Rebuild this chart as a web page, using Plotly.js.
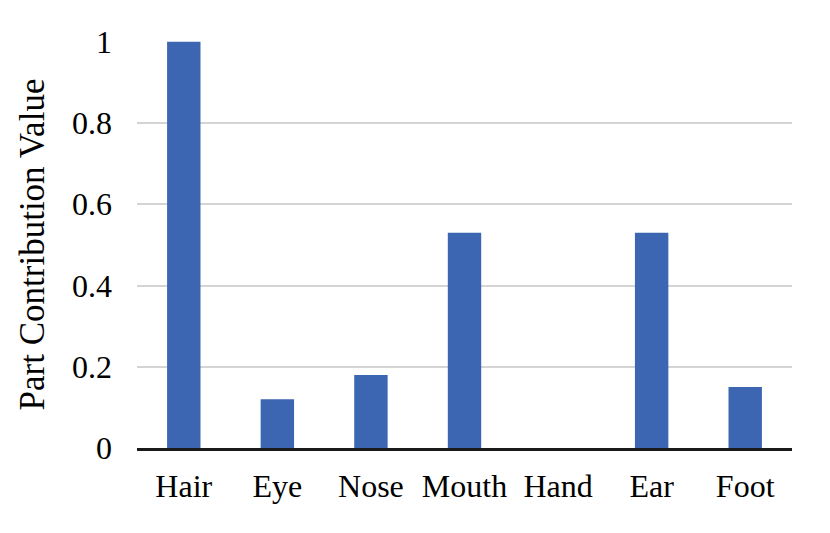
<!DOCTYPE html>
<html>
<head>
<meta charset="utf-8">
<script src="https://cdn.plot.ly/plotly-3.0.1.min.js"></script>
<style>html,body{margin:0;padding:0;background:#fff;}#chart{width:830px;height:533px;}</style>
</head>
<body>
<div id="chart"></div>
<script>
const parts = ["Hair", "Eye", "Nose", "Mouth", "Hand", "Ear", "Foot"];
const contribution = [1.0, 0.12, 0.18, 0.53, 0, 0.53, 0.15];
const yTicks = [0, 0.2, 0.4, 0.6, 0.8, 1];
const yTickLabels = ["0", "0.2", "0.4", "0.6", "0.8", "1"];
const yTitle = "Part Contribution Value";

const font = "'Liberation Serif', 'Times New Roman', serif";

Plotly.newPlot("chart", [{
  type: "bar",
  x: parts,
  y: contribution,
  marker: {color: "#3C66B1", line: {width: 0}},
  hoverinfo: "skip"
}], {
  width: 830, height: 533,
  margin: {l: 137, r: 38, t: 41, b: 85},
  paper_bgcolor: "#fff", plot_bgcolor: "#fff",
  bargap: 0.643,
  showlegend: false,
  font: {family: font, color: "#000", size: 32},
  xaxis: {
    type: "category",
    showgrid: false, zeroline: false,
    showline: true, linecolor: "#1a1a1a", linewidth: 3,
    ticks: "", tickfont: {family: font, size: 32, color: "#000"},
    ticklabelstandoff: 8
  },
  yaxis: {
    range: [0, 1.002],
    tickvals: yTicks, ticktext: yTickLabels,
    showgrid: true, gridcolor: "#D4D4D4", gridwidth: 2,
    zeroline: false, showline: false,
    ticks: "", tickfont: {family: font, size: 32, color: "#000"},
    ticklabelstandoff: 24,
    title: {text: yTitle, font: {family: font, size: 35, color: "#000"}, standoff: 16}
  }
}, {displayModeBar: false, staticPlot: true});
</script>
</body>
</html>
